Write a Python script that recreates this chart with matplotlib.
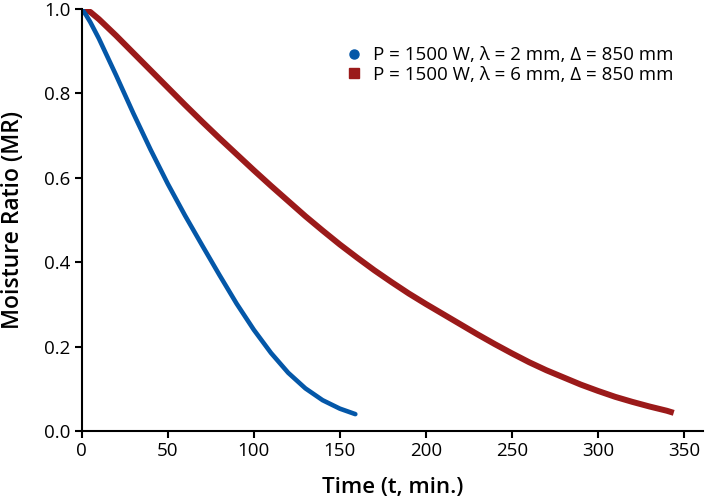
import matplotlib
matplotlib.use("Agg")
import matplotlib.pyplot as plt
from matplotlib.lines import Line2D

plt.rcParams["font.family"] = ["Open Sans", "DejaVu Sans"]

# drying curves (time in min, moisture ratio)
t_2mm = [0, 2.5, 5, 10, 20, 30, 40, 50, 60, 70, 80, 90, 100, 110, 120,
         130, 140, 150, 159]
mr_2mm = [1.000, 0.986, 0.969, 0.930, 0.843, 0.753, 0.667, 0.586, 0.511,
          0.440, 0.370, 0.302, 0.240, 0.185, 0.138, 0.101, 0.073, 0.053,
          0.040]

t_6mm = [0, 5, 10, 20, 30, 40, 50, 60, 70, 80, 90, 100, 110, 120, 130,
         140, 150, 160, 170, 180, 190, 200, 210, 220, 230, 240, 250, 260,
         270, 280, 290, 300, 310, 320, 330, 340, 344]
mr_6mm = [1.000, 0.993, 0.976, 0.937, 0.896, 0.855, 0.814, 0.773, 0.733,
          0.694, 0.656, 0.618, 0.581, 0.545, 0.509, 0.475, 0.442, 0.411,
          0.381, 0.353, 0.326, 0.301, 0.277, 0.253, 0.229, 0.206, 0.184,
          0.163, 0.144, 0.127, 0.110, 0.095, 0.081, 0.069, 0.058, 0.048,
          0.043]

labels = ["P = 1500 W, \u03bb = 2 mm, \u0394 = 850 mm",
          "P = 1500 W, \u03bb = 6 mm, \u0394 = 850 mm"]
blue = "#0457a8"
red = "#9b1a1a"

fig = plt.figure(figsize=(7.09, 5.01), dpi=100)
ax = fig.add_axes([0.1152, 0.1397, 0.8763, 0.8423])

ax.plot(t_6mm, mr_6mm, color=red, lw=4.3, solid_capstyle="butt",
        solid_joinstyle="round")
ax.plot(t_2mm, mr_2mm, color=blue, lw=3.3, solid_capstyle="round",
        solid_joinstyle="round")

ax.set_xlim(0, 361)
ax.set_ylim(0, 1.0)
ax.set_xticks([0, 50, 100, 150, 200, 250, 300, 350])
ax.set_yticks([0.0, 0.2, 0.4, 0.6, 0.8, 1.0])
ax.set_yticklabels(["0.0", "0.2", "0.4", "0.6", "0.8", "1.0"])

for s in ["top", "right"]:
    ax.spines[s].set_visible(False)
for s in ["left", "bottom"]:
    ax.spines[s].set_linewidth(1.5)
ax.tick_params(direction="out", length=5, width=1.5, labelsize=13.5, pad=3)

ax.set_xlabel("Time (t, min.)", fontsize=16, fontweight="semibold",
              labelpad=12)
ax.set_ylabel("Moisture Ratio (MR)", fontsize=16.5, fontweight="semibold",
              labelpad=14)

handles = [Line2D([], [], ls="none", marker="o", ms=6.5, color=blue),
           Line2D([], [], ls="none", marker="s", ms=6.5, color=red)]
ax.legend(handles, labels, loc="upper right", bbox_to_anchor=(0.952, 0.912),
          frameon=False, fontsize=13.5, handlelength=0.8, handletextpad=0.6,
          labelspacing=0.08, borderpad=0, borderaxespad=0)

fig.savefig("out.png", dpi=100)
